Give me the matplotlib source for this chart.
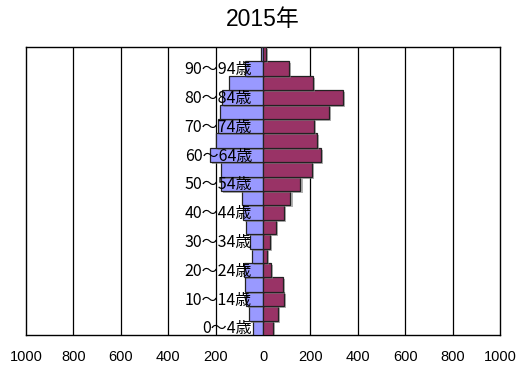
import matplotlib
matplotlib.use("Agg")
import matplotlib.pyplot as plt
import matplotlib.patheffects as pe
from matplotlib.transforms import offset_copy
import numpy as np

title = "2015年"
age_groups = ["0～4歳", "5～9歳", "10～14歳", "15～19歳", "20～24歳", "25～29歳",
              "30～34歳", "35～39歳", "40～44歳", "45～49歳", "50～54歳", "55～59歳",
              "60～64歳", "65～69歳", "70～74歳", "75～79歳", "80～84歳", "85～89歳",
              "90～94歳", "95～99歳"]
male = [43, 59, 72, 78, 80, 45, 55, 73, 84, 87, 176, 177, 225, 197, 190, 183, 173, 143, 75, 10]
female = [43, 64, 88, 85, 32, 15, 29, 56, 87, 116, 158, 207, 246, 228, 214, 277, 337, 211, 109, 14]
xticks = [-1000, -800, -600, -400, -200, 0, 200, 400, 600, 800, 1000]
xticklabels = ["1000", "800", "600", "400", "200", "0", "200", "400", "600", "800", "1000"]

W, H = 526, 374
fig = plt.figure(figsize=(W / 100, H / 100), dpi=100)
ax = fig.add_axes([26 / W, 1 - 335 / H, (500 - 26) / W, (335 - 47) / H])

y = np.arange(len(age_groups))
shadow = [pe.SimplePatchShadow(offset=(1.5, -1.5), shadow_rgbFace="#808080", alpha=0.6), pe.Normal()]
ax.barh(y, [-v for v in male], height=1.0, color="#9999FF", edgecolor="#222222",
        linewidth=0.9, zorder=3, path_effects=shadow)
ax.barh(y, female, height=1.0, color="#993366", edgecolor="#222222",
        linewidth=0.9, zorder=3, path_effects=shadow)

ax.set_xlim(-1000, 1000)
ax.set_ylim(-0.5, len(age_groups) - 0.5)
ax.set_xticks(xticks)
ax.set_xticklabels(xticklabels, fontsize=10.5, family=["Liberation Sans", "DejaVu Sans"])
ax.tick_params(axis="x", length=0, pad=11)
ax.set_yticks([])
for t in xticks[1:-1]:
    if t != 0:
        ax.axvline(t, color="black", linewidth=0.9, zorder=1)
for s in ax.spines.values():
    s.set_color("black")
    s.set_linewidth(1.0)

trans = offset_copy(ax.transData, fig=fig, x=-11, y=-1, units="dots")
for i, lab in enumerate(age_groups):
    if i % 2 == 0:
        ax.text(0, i, lab, transform=trans, ha="right", va="center", fontsize=11.5,
                family=["Noto Sans CJK JP", "DejaVu Sans"], zorder=5)

fig.text(263 / W, 1 - 19 / H, title, ha="center", va="center", fontsize=16.5,
         family=["Liberation Sans", "Noto Sans CJK JP", "DejaVu Sans"])

fig.savefig("out.png", dpi=100)
